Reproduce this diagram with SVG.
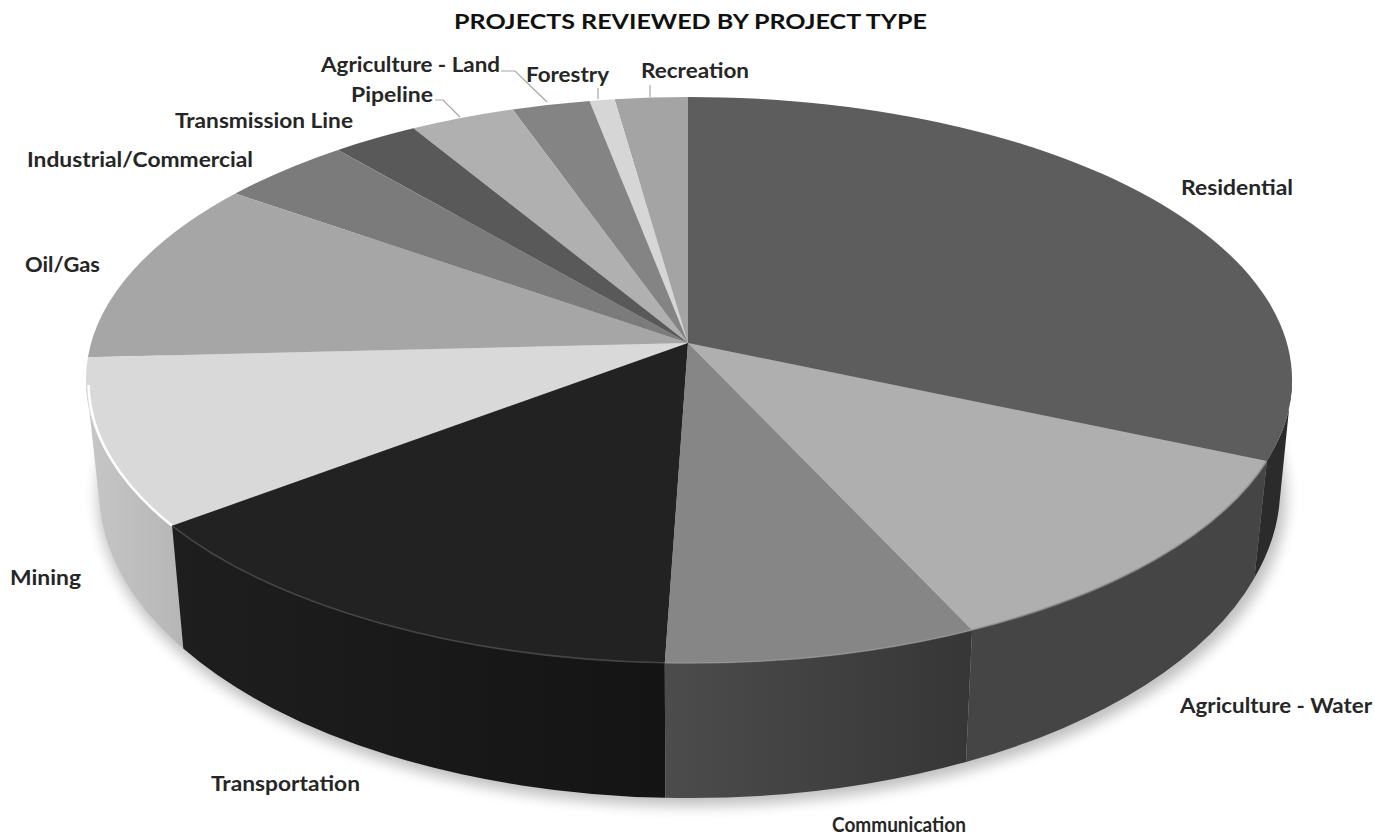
<svg xmlns="http://www.w3.org/2000/svg" width="1375" height="837" viewBox="0 0 1375 837">
<style>
.lbl{font-family:Lato,"Open Sans","Liberation Sans",sans-serif;font-weight:700;font-size:20px;fill:#262626}
.ttl{font-family:Lato,"Open Sans","Liberation Sans",sans-serif;font-weight:700;font-size:20px;fill:#111}
.lead{fill:none;stroke:#a6a6a6;stroke-width:1.2}
</style>
<defs>
<filter id="blur" x="-10%" y="-10%" width="120%" height="130%"><feGaussianBlur stdDeviation="7"/></filter>
<clipPath id="outside"><path clip-rule="evenodd" d="M0 0H1375V837H0Z M88 380A601 281 0 1 0 1290 380A601 281 0 1 0 88 380Z"/></clipPath>
<linearGradient id="gTrans" gradientUnits="userSpaceOnUse" x1="172" y1="0" x2="665" y2="0"><stop offset="0" stop-color="#1e1e1e"/><stop offset="1" stop-color="#141414"/></linearGradient>
<linearGradient id="gComm" gradientUnits="userSpaceOnUse" x1="665" y1="0" x2="972" y2="0"><stop offset="0" stop-color="#4c4c4c"/><stop offset="1" stop-color="#363636"/></linearGradient>
<linearGradient id="gMin" gradientUnits="userSpaceOnUse" x1="88" y1="0" x2="183" y2="0"><stop offset="0" stop-color="#c6c6c6"/><stop offset="1" stop-color="#b6b6b6"/></linearGradient>
</defs>
<rect width="1375" height="837" fill="#ffffff"/>
<text class="ttl" x="454" y="29" textLength="473" lengthAdjust="spacingAndGlyphs">PROJECTS REVIEWED BY PROJECT TYPE</text>
<ellipse cx="692" cy="496" rx="594" ry="310" fill="#000" opacity="0.25" filter="url(#blur)"/>
<g id="recreation">
<path d="M688 343L614.5 99.2A603 283 0 0 1 688 97Z" fill="#a4a4a4"/>
</g>
<g id="forestry">
<path d="M688 343L589.5 100.9A603 283 0 0 1 614.5 99.2Z" fill="#d6d6d6"/>
</g>
<g id="agriculture-land">
<path d="M688 343L512.7 109.4A603 283 0 0 1 589.5 100.9Z" fill="#848484"/>
</g>
<g id="pipeline">
<path d="M688 343L413.4 128.3A603 283 0 0 1 512.7 109.4Z" fill="#b0b0b0"/>
</g>
<g id="transmission-line">
<path d="M688 343L338 149.9A603 283 0 0 1 413.4 128.3Z" fill="#595959"/>
</g>
<g id="industrial-commercial">
<path d="M688 343L235.4 193.6A603 283 0 0 1 338 149.9Z" fill="#7b7b7b"/>
</g>
<g id="oil-gas">
<path d="M688 343L87.9 357.3A603 283 0 0 1 235.4 193.6Z" fill="#a6a6a6"/>
</g>
<g id="mining">
<path clip-path="url(#outside)" d="M172.1 525.8A603 283 0 0 1 86 380L100 507.5A590 308 0 0 0 183.3 648.6Z" fill="url(#gMin)"/>
<path d="M688 343L172.1 525.8A603 283 0 0 1 87.9 357.3Z" fill="#d9d9d9"/>
<path d="M172.1 525.8A603 283 0 0 1 88.5 385" fill="none" stroke="#ffffff" stroke-width="2.5"/>
</g>
<g id="transportation">
<path clip-path="url(#outside)" d="M664.8 662.8A603 283 0 0 1 172.1 525.8L183.3 648.6A590 308 0 0 0 665.3 797.8Z" fill="url(#gTrans)"/>
<path d="M688 343L664.8 662.8A603 283 0 0 1 172.1 525.8Z" fill="#222222"/>
<path d="M664.8 662.8A603 283 0 0 1 172.1 525.8" fill="none" stroke="#454545" stroke-width="1.6"/>
</g>
<g id="communication">
<path clip-path="url(#outside)" d="M972.1 629.9A603 283 0 0 1 664.8 662.8L665.3 797.8A590 308 0 0 0 966 761.9Z" fill="url(#gComm)"/>
<path d="M688 343L972.1 629.9A603 283 0 0 1 664.8 662.8Z" fill="#868686"/>
<path d="M972.1 629.9A603 283 0 0 1 664.8 662.8" fill="none" stroke="#9a9a9a" stroke-width="1.5" opacity="0.7"/>
</g>
<g id="agriculture-water">
<path clip-path="url(#outside)" d="M1266.9 460.9A603 283 0 0 1 972.1 629.9L966 761.9A590 308 0 0 0 1254.4 578Z" fill="#454545"/>
<path d="M688 343L1266.9 460.9A603 283 0 0 1 972.1 629.9Z" fill="#afafaf"/>
<path d="M1266.9 460.9A603 283 0 0 1 972.1 629.9" fill="none" stroke="#8e8e8e" stroke-width="2" opacity="0.6"/>
</g>
<g id="residential">
<path clip-path="url(#outside)" d="M1292 380A603 283 0 0 1 1266.9 460.9L1254.4 578A590 308 0 0 0 1279 507.5Z" fill="#2b2b2b"/>
<path d="M688 343L688 97A603 283 0 0 1 1266.9 460.9Z" fill="#5d5d5d"/>
</g>
<g id="connectors">
<path class="lead" d="M501 71L515 71L547 102"/>
<path class="lead" d="M598 88L598 99"/>
<path class="lead" d="M650 85L650 97"/>
<path class="lead" d="M435 100L443 100L460 117"/>
</g>
<g id="labels">
<text class="lbl" x="1181" y="195" textLength="112" lengthAdjust="spacingAndGlyphs">Residential</text>
<text class="lbl" x="1180" y="713" textLength="192" lengthAdjust="spacingAndGlyphs">Agriculture - Water</text>
<text class="lbl" x="832" y="832" textLength="134" lengthAdjust="spacingAndGlyphs">Communication</text>
<text class="lbl" x="211" y="791" textLength="149" lengthAdjust="spacingAndGlyphs">Transportation</text>
<text class="lbl" x="10" y="585" textLength="71" lengthAdjust="spacingAndGlyphs">Mining</text>
<text class="lbl" x="25" y="272" textLength="75" lengthAdjust="spacingAndGlyphs">Oil/Gas</text>
<text class="lbl" x="27" y="167" textLength="226" lengthAdjust="spacingAndGlyphs">Industrial/Commercial</text>
<text class="lbl" x="175" y="128" textLength="178" lengthAdjust="spacingAndGlyphs">Transmission Line</text>
<text class="lbl" x="351" y="102" textLength="82" lengthAdjust="spacingAndGlyphs">Pipeline</text>
<text class="lbl" x="321" y="72" textLength="179" lengthAdjust="spacingAndGlyphs">Agriculture - Land</text>
<text class="lbl" x="526" y="82" textLength="83" lengthAdjust="spacingAndGlyphs">Forestry</text>
<text class="lbl" x="641" y="78" textLength="108" lengthAdjust="spacingAndGlyphs">Recreation</text>
</g>
</svg>
